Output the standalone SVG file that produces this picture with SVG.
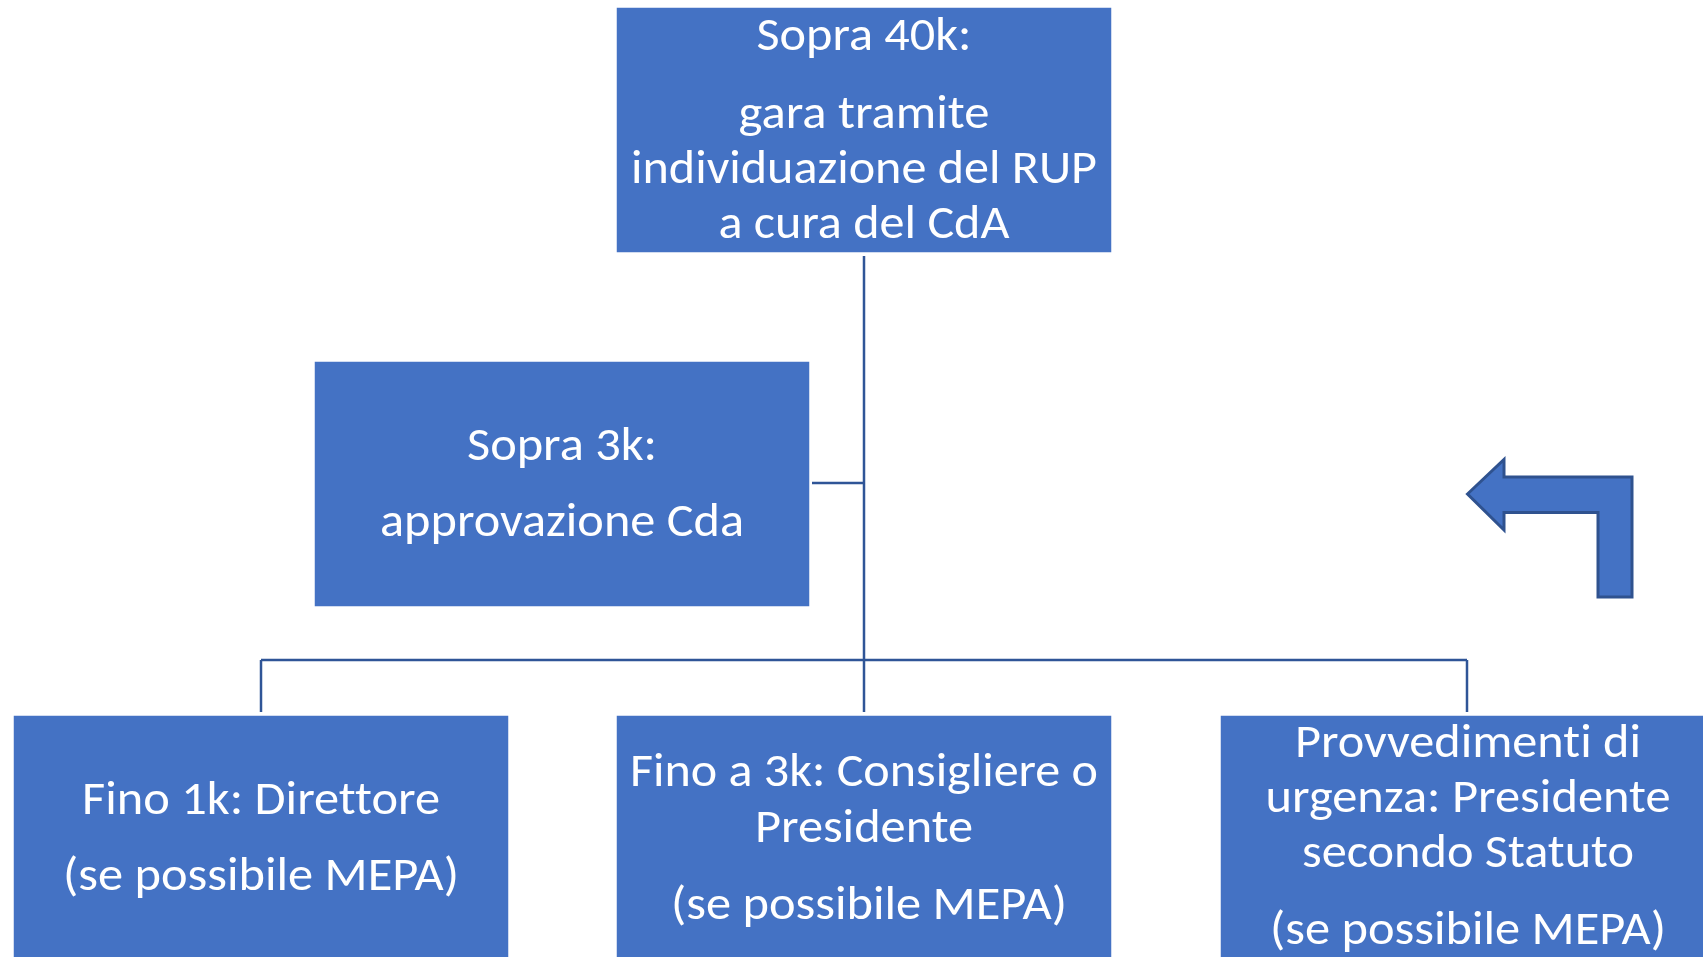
<svg xmlns="http://www.w3.org/2000/svg" width="1703" height="957" viewBox="0 0 1703 957">
  <style>
    .box { fill: #4472C4; stroke: #FFFFFF; stroke-width: 1.5; }
    .lbl { fill: #FFFFFF; font-family: Carlito, Lato, "Open Sans", sans-serif; font-size: 47px; text-anchor: middle; font-variant-ligatures: none; }
    .conn { fill: none; stroke: #2F5597; stroke-width: 2.5; }
    .bent { fill: #4472C4; stroke: #2F528F; stroke-width: 3; stroke-linejoin: miter; }
  </style>
  <rect width="1703" height="957" fill="#FFFFFF"/>

  <g id="connectors">
    <path class="conn" d="M864 256 V660"/>
    <path class="conn" d="M812 483 H864"/>
    <path class="conn" d="M261 660 H1467"/>
    <path class="conn" d="M261 660 V712"/>
    <path class="conn" d="M864 660 V712"/>
    <path class="conn" d="M1467 660 V712"/>
  </g>

  <g id="node-top">
    <rect class="box" x="616" y="7" width="496" height="246"/>
    <text class="lbl" x="864" y="50" textLength="215" lengthAdjust="spacingAndGlyphs">Sopra 40k:</text>
    <text class="lbl" x="864" y="128" textLength="251" lengthAdjust="spacingAndGlyphs">gara tramite</text>
    <text class="lbl" x="864" y="183" textLength="466" lengthAdjust="spacingAndGlyphs">individuazione del RUP</text>
    <text class="lbl" x="864" y="238" textLength="291" lengthAdjust="spacingAndGlyphs">a cura del CdA</text>
  </g>

  <g id="node-sopra3k">
    <rect class="box" x="314" y="361" width="496" height="246"/>
    <text class="lbl" x="562" y="460" textLength="190" lengthAdjust="spacingAndGlyphs">Sopra 3k:</text>
    <text class="lbl" x="562" y="536" textLength="364" lengthAdjust="spacingAndGlyphs">approvazione Cda</text>
  </g>

  <g id="node-fino1k">
    <rect class="box" x="13" y="715" width="496" height="246"/>
    <text class="lbl" x="261" y="814" textLength="358" lengthAdjust="spacingAndGlyphs">Fino 1k: Direttore</text>
    <text class="lbl" x="261" y="890" textLength="396" lengthAdjust="spacingAndGlyphs">(se possibile MEPA)</text>
  </g>

  <g id="node-fino3k">
    <rect class="box" x="616" y="715" width="496" height="246"/>
    <text class="lbl" x="864" y="786" textLength="468" lengthAdjust="spacingAndGlyphs">Fino a 3k: Consigliere o</text>
    <text class="lbl" x="864" y="842" textLength="218" lengthAdjust="spacingAndGlyphs">Presidente</text>
    <text class="lbl" x="869" y="919" textLength="396" lengthAdjust="spacingAndGlyphs">(se possibile MEPA)</text>
  </g>

  <g id="node-urgenza">
    <rect class="box" x="1220" y="715" width="496" height="246"/>
    <text class="lbl" x="1468" y="757" textLength="346" lengthAdjust="spacingAndGlyphs">Provvedimenti di</text>
    <text class="lbl" x="1468" y="812" textLength="405" lengthAdjust="spacingAndGlyphs">urgenza: Presidente</text>
    <text class="lbl" x="1468" y="867" textLength="332" lengthAdjust="spacingAndGlyphs">secondo Statuto</text>
    <text class="lbl" x="1468" y="944" textLength="396" lengthAdjust="spacingAndGlyphs">(se possibile MEPA)</text>
  </g>

  <g id="bent-arrow">
    <polygon class="bent" points="1467.5,494 1504,459.5 1504,477 1632,477 1632,597 1598,597 1598,512.5 1504,512.5 1504,530"/>
  </g>
</svg>
